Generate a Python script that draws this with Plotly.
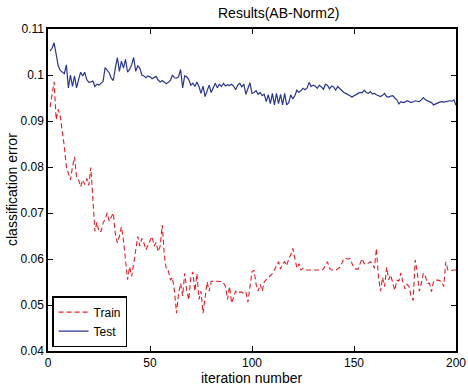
import plotly.graph_objects as go

iterations = list(range(1, 201))

test_error = [
    0.1052, 0.1058, 0.1070, 0.1048, 0.1020, 0.1010, 0.1006, 0.1003, 0.1022, 0.0972,
    0.1000, 0.0975, 0.0998, 0.0972, 0.0990, 0.1006, 0.0998, 0.1006, 0.0990, 0.0984,
    0.0985, 0.0987, 0.0975, 0.0980, 0.0978, 0.0982, 0.0986, 0.1016, 0.1010, 0.1005,
    0.0993, 0.0988, 0.1015, 0.1038, 0.1008, 0.1030, 0.1015, 0.1034, 0.1006, 0.1012,
    0.1022, 0.1038, 0.1008, 0.1020, 0.1015, 0.1000, 0.0998, 0.0994, 0.0998, 0.0996,
    0.0992, 0.0995, 0.0997, 0.0989, 0.0985, 0.0988, 0.0984, 0.0981, 0.0984, 0.0988,
    0.1000, 0.0994, 0.0993, 0.0996, 0.1012, 0.0972, 0.0998, 0.0996, 0.0990, 0.0978,
    0.0982, 0.0975, 0.0985, 0.0975, 0.0960, 0.0976, 0.0953, 0.0968, 0.0978, 0.0962,
    0.0972, 0.0982, 0.0972, 0.0980, 0.0975, 0.0982, 0.0976, 0.0979, 0.0977, 0.0980,
    0.0976, 0.0968, 0.0978, 0.0982, 0.0974, 0.0980, 0.0958, 0.0972, 0.0983, 0.0960,
    0.0962, 0.0966, 0.0958, 0.0962, 0.0955, 0.0958, 0.0942, 0.0957, 0.0938, 0.0960,
    0.0935, 0.0960, 0.0938, 0.0958, 0.0935, 0.0960, 0.0935, 0.0940, 0.0957, 0.0948,
    0.0955, 0.0967, 0.0962, 0.0966, 0.0971, 0.0968, 0.0972, 0.0984, 0.0975, 0.0978,
    0.0976, 0.0971, 0.0978, 0.0974, 0.0969, 0.0980, 0.0978, 0.0970, 0.0976, 0.0974,
    0.0967, 0.0975, 0.0970, 0.0966, 0.0962, 0.0960, 0.0958, 0.0955, 0.0952, 0.0955,
    0.0957, 0.0960, 0.0962, 0.0961, 0.0967, 0.0962, 0.0960, 0.0964, 0.0959, 0.0960,
    0.0957, 0.0955, 0.0953, 0.0956, 0.0960, 0.0953, 0.0952, 0.0954, 0.0955, 0.0950,
    0.0946, 0.0937, 0.0942, 0.0940, 0.0941, 0.0944, 0.0942, 0.0940, 0.0942, 0.0944,
    0.0943, 0.0942, 0.0946, 0.0951, 0.0946, 0.0944, 0.0942, 0.0940, 0.0935, 0.0937,
    0.0940, 0.0941, 0.0942, 0.0941, 0.0942, 0.0943, 0.0944, 0.0943, 0.0946, 0.0934,
]

train_error = [
    0.0930, 0.0962, 0.0985, 0.0903, 0.0925, 0.0910, 0.0882, 0.0845, 0.0800, 0.0785,
    0.0772, 0.0800, 0.0822, 0.0778, 0.0772, 0.0757, 0.0772, 0.0762, 0.0775, 0.0760,
    0.0799, 0.0730, 0.0660, 0.0680, 0.0659, 0.0660, 0.0678, 0.0687, 0.0700, 0.0682,
    0.0690, 0.0700, 0.0655, 0.0635, 0.0650, 0.0670, 0.0640, 0.0600, 0.0555, 0.0583,
    0.0562, 0.0590, 0.0617, 0.0649, 0.0628, 0.0645, 0.0635, 0.0620, 0.0630, 0.0640,
    0.0649, 0.0628, 0.0636, 0.0616, 0.0628, 0.0674, 0.0610, 0.0576, 0.0574, 0.0554,
    0.0560, 0.0530, 0.0482, 0.0525, 0.0547, 0.0520, 0.0569, 0.0532, 0.0511, 0.0560,
    0.0572, 0.0530, 0.0568, 0.0512, 0.0530, 0.0482, 0.0522, 0.0550, 0.0530, 0.0551,
    0.0552, 0.0552, 0.0552, 0.0552, 0.0551, 0.0548, 0.0540, 0.0512, 0.0540, 0.0504,
    0.0520, 0.0530, 0.0525, 0.0528, 0.0528, 0.0525, 0.0528, 0.0506, 0.0540, 0.0572,
    0.0576, 0.0545, 0.0530, 0.0545, 0.0530, 0.0550, 0.0555, 0.0560, 0.0565, 0.0568,
    0.0576, 0.0585, 0.0594, 0.0578, 0.0590, 0.0594, 0.0585, 0.0600, 0.0609, 0.0623,
    0.0598, 0.0580, 0.0590, 0.0576, 0.0580, 0.0576, 0.0576, 0.0576, 0.0576, 0.0576,
    0.0576, 0.0576, 0.0576, 0.0576, 0.0578, 0.0585, 0.0594, 0.0580, 0.0576, 0.0576,
    0.0576, 0.0578, 0.0582, 0.0590, 0.0601, 0.0601, 0.0600, 0.0601, 0.0592, 0.0580,
    0.0578, 0.0578, 0.0590, 0.0601, 0.0590, 0.0588, 0.0591, 0.0594, 0.0590, 0.0580,
    0.0623, 0.0560, 0.0530, 0.0560, 0.0540, 0.0582, 0.0555, 0.0565, 0.0548, 0.0532,
    0.0554, 0.0552, 0.0570, 0.0548, 0.0535, 0.0545, 0.0540, 0.0518, 0.0510, 0.0598,
    0.0572, 0.0530, 0.0547, 0.0569, 0.0562, 0.0547, 0.0547, 0.0529, 0.0552, 0.0554,
    0.0554, 0.0553, 0.0550, 0.0540, 0.0594, 0.0576, 0.0576, 0.0575, 0.0576, 0.0576,
]

x_ticks = [0, 50, 100, 150, 200]
y_ticks = [0.04, 0.05, 0.06, 0.07, 0.08, 0.09, 0.10, 0.11]
y_tick_labels = ["0.04", "0.05", "0.06", "0.07", "0.08", "0.09", "0.1", "0.11"]

FONT = "Liberation Sans, Arial, Helvetica, sans-serif"

fig = go.Figure()
fig.add_trace(go.Scatter(
    x=iterations, y=train_error, mode="lines", name="Train",
    line=dict(color="#ec1c24", width=1.1, dash="5px,3px"),
))
fig.add_trace(go.Scatter(
    x=iterations, y=test_error, mode="lines", name="Test",
    line=dict(color="#2b3594", width=1.2),
))

axis_common = dict(
    showgrid=False, zeroline=False, automargin=False,
    showline=True, linecolor="black", linewidth=1.5, mirror="ticks",
    ticks="inside", ticklen=5, tickwidth=1, tickcolor="black",
    tickfont=dict(family=FONT, size=12, color="black"),
)

fig.update_layout(
    width=468, height=388,
    margin=dict(l=48, r=12, t=29, b=37),
    paper_bgcolor="white", plot_bgcolor="white",
    font=dict(family=FONT, size=12, color="black"),
    xaxis=dict(range=[0, 200], tickvals=x_ticks, **axis_common),
    yaxis=dict(range=[0.04, 0.11], tickvals=y_ticks, ticktext=y_tick_labels,
               **axis_common),
    showlegend=True,
    legend=dict(x=0.01, y=0.012, xanchor="left", yanchor="bottom",
                bgcolor="white", bordercolor="black", borderwidth=1.5,
                font=dict(family=FONT, size=12, color="black"),
                tracegroupgap=0, itemwidth=30),
    annotations=[
        dict(text="Results(AB-Norm2)", xref="paper", yref="paper",
             x=0.565, y=1.0, yshift=16, xanchor="center", yanchor="middle",
             showarrow=False, font=dict(family=FONT, size=14, color="black")),
        dict(text="iteration number", xref="paper", yref="paper",
             x=0.5, y=0.0, yshift=-27, xanchor="center", yanchor="middle",
             showarrow=False, font=dict(family=FONT, size=14, color="black")),
        dict(text="classification error", xref="paper", yref="paper",
             x=0.0, y=0.5, xshift=-36, xanchor="center", yanchor="middle",
             textangle=-90, showarrow=False,
             font=dict(family=FONT, size=14, color="black")),
    ],
)

fig.write_html(
    "out.html",
    config={"displayModeBar": False},
    post_script="document.body.style.margin='0';document.body.style.overflow='hidden';",
)
